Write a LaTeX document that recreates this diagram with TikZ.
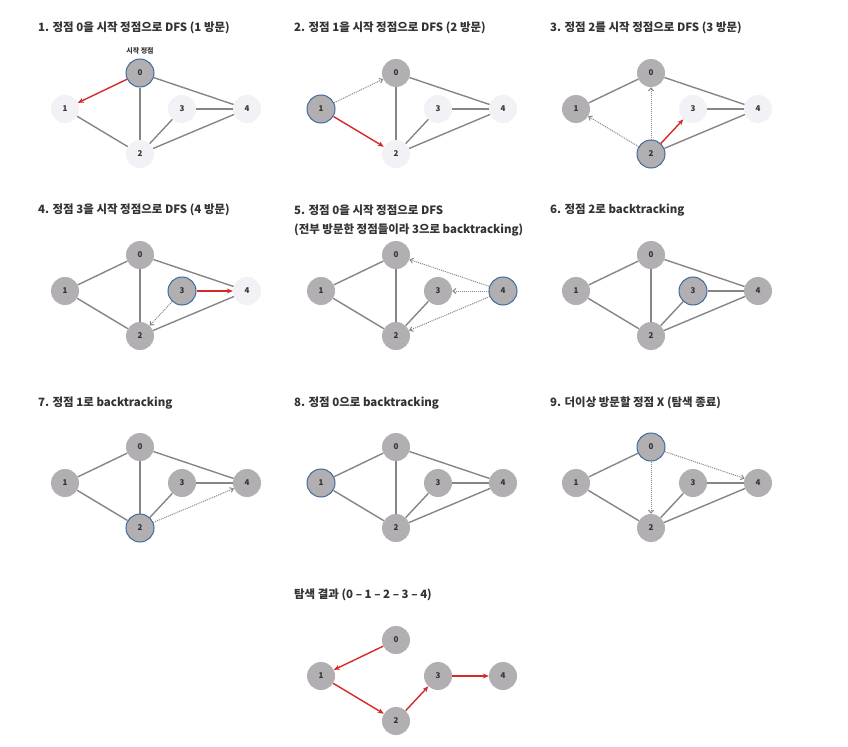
\documentclass[tikz,border=0pt]{standalone}
\usepackage{fontspec}
\setmainfont{Noto Sans CJK KR}
\usetikzlibrary{arrows.meta}
\definecolor{lightnode}{HTML}{F2F1F5}
\definecolor{visnode}{HTML}{B1AFB2}
\definecolor{curborder}{HTML}{3F6B9B}
\definecolor{edgegray}{HTML}{868686}
\definecolor{redarrow}{HTML}{D42A2A}
\definecolor{txt}{HTML}{333333}
\tikzset{
 vbase/.style={circle, minimum size=28bp, inner sep=0pt, font=\fontsize{8}{9}\selectfont\bfseries, text=txt},
 unv/.style={vbase, fill=lightnode},
 vis/.style={vbase, fill=visnode},
 cur/.style={vbase, fill=visnode, draw=curborder, line width=1bp},
 edge/.style={draw=edgegray, line width=1.4bp},
 redarr/.style={draw=redarrow, line width=1.4bp, -{Stealth[length=6bp,width=5bp]}},
 dotarr/.style={draw=edgegray, line width=1bp, dash pattern=on 1bp off 1bp, -{Straight Barb[length=3bp,width=5bp]}},
 title/.style={anchor=west, font=\fontsize{11.5}{13}\selectfont\bfseries, text=txt, inner sep=0pt},
 small/.style={font=\fontsize{7}{8}\selectfont\bfseries, text=txt, inner sep=0pt},
}
\newcommand\gpanel[7]{%
 \begin{scope}[shift={#2}]
 \node[#3] (#1-0) at (140,73) {0};
 \node[#4] (#1-1) at (65,109) {1};
 \node[#5] (#1-2) at (140,154) {2};
 \node[#6] (#1-3) at (182,109) {3};
 \node[#7] (#1-4) at (247,109) {4};
 \end{scope}}
\begin{document}
\begin{tikzpicture}[x=1bp,y=-1bp]
\useasboundingbox[fill=white] (0,0) rectangle (848,747);
% titles
\node[title] (t1) at (38,28) {1. 정점 0을 시작 정점으로 DFS (1 방문)};
\node[title] (t2) at (294,28) {2. 정점 1을 시작 정점으로 DFS (2 방문)};
\node[title] (t3) at (550,28) {3. 정점 2를 시작 정점으로 DFS (3 방문)};
\node[title] (t4) at (38,210) {4. 정점 3을 시작 정점으로 DFS (4 방문)};
\node[title] (t5) at (294,210) {5. 정점 0을 시작 정점으로 DFS};
\node[title] (t5b) at (294,230) {(전부 방문한 정점들이라 3으로 backtracking)};
\node[title] (t6) at (550,210) {6. 정점 2로 backtracking};
\node[title] (t7) at (38,403) {7. 정점 1로 backtracking};
\node[title] (t8) at (294,403) {8. 정점 0으로 backtracking};
\node[title] (t9) at (550,403) {9. 더이상 방문할 정점 X (탐색 종료)};
\node[title] (t10) at (294,595) {탐색 결과 (0 – 1 – 2 – 3 – 4)};
% panel 1
\gpanel{a}{(0,0)}{cur}{unv}{unv}{unv}{unv}
\node[small] (start) at (140,51) {시작 정점};
\draw[edge] (a-0) -- (a-2); \draw[edge] (a-0) -- (a-4); \draw[edge] (a-1) -- (a-2);
\draw[edge] (a-2) -- (a-3); \draw[edge] (a-2) -- (a-4); \draw[edge] (a-3) -- (a-4);
\draw[redarr] (a-0) -- (a-1);
% panel 2
\gpanel{b}{(256,0)}{vis}{cur}{unv}{unv}{unv}
\draw[edge] (b-0) -- (b-2); \draw[edge] (b-0) -- (b-4);
\draw[edge] (b-2) -- (b-3); \draw[edge] (b-2) -- (b-4); \draw[edge] (b-3) -- (b-4);
\draw[dotarr] (b-1) -- (b-0);
\draw[redarr] (b-1) -- (b-2);
% panel 3
\gpanel{c}{(511,0)}{vis}{vis}{cur}{unv}{unv}
\draw[edge] (c-0) -- (c-1); \draw[edge] (c-0) -- (c-4);
\draw[edge] (c-2) -- (c-4); \draw[edge] (c-3) -- (c-4);
\draw[dotarr] (c-2) -- (c-0); \draw[dotarr] (c-2) -- (c-1);
\draw[redarr] (c-2) -- (c-3);
% panel 4
\gpanel{d}{(0,182)}{vis}{vis}{vis}{cur}{unv}
\draw[edge] (d-0) -- (d-1); \draw[edge] (d-0) -- (d-2); \draw[edge] (d-1) -- (d-2);
\draw[edge] (d-0) -- (d-4); \draw[edge] (d-2) -- (d-4);
\draw[dotarr] (d-3) -- (d-2);
\draw[redarr] (d-3) -- (d-4);
% panel 5
\gpanel{e}{(256,182)}{vis}{vis}{vis}{vis}{cur}
\draw[edge] (e-0) -- (e-1); \draw[edge] (e-0) -- (e-2); \draw[edge] (e-1) -- (e-2);
\draw[edge] (e-2) -- (e-3);
\draw[dotarr] (e-4) -- (e-0); \draw[dotarr] (e-4) -- (e-3); \draw[dotarr] (e-4) -- (e-2);
% panel 6
\gpanel{f}{(511,182)}{vis}{vis}{vis}{cur}{vis}
\draw[edge] (f-0) -- (f-1); \draw[edge] (f-0) -- (f-2); \draw[edge] (f-1) -- (f-2);
\draw[edge] (f-2) -- (f-3); \draw[edge] (f-2) -- (f-4); \draw[edge] (f-3) -- (f-4);
\draw[edge] (f-0) -- (f-4);
% panel 7
\gpanel{g}{(0,374)}{vis}{vis}{cur}{vis}{vis}
\draw[edge] (g-0) -- (g-1); \draw[edge] (g-0) -- (g-2); \draw[edge] (g-1) -- (g-2);
\draw[edge] (g-2) -- (g-3); \draw[edge] (g-3) -- (g-4); \draw[edge] (g-0) -- (g-4);
\draw[dotarr] (g-2) -- (g-4);
% panel 8
\gpanel{h}{(256,374)}{vis}{cur}{vis}{vis}{vis}
\draw[edge] (h-0) -- (h-1); \draw[edge] (h-0) -- (h-2); \draw[edge] (h-1) -- (h-2);
\draw[edge] (h-2) -- (h-3); \draw[edge] (h-2) -- (h-4); \draw[edge] (h-3) -- (h-4);
\draw[edge] (h-0) -- (h-4);
% panel 9
\gpanel{i}{(511,374)}{cur}{vis}{vis}{vis}{vis}
\draw[edge] (i-0) -- (i-1); \draw[edge] (i-1) -- (i-2);
\draw[edge] (i-2) -- (i-3); \draw[edge] (i-2) -- (i-4); \draw[edge] (i-3) -- (i-4);
\draw[dotarr] (i-0) -- (i-2); \draw[dotarr] (i-0) -- (i-4);
% result
\gpanel{j}{(256,567)}{vis}{vis}{vis}{vis}{vis}
\draw[redarr] (j-0) -- (j-1); \draw[redarr] (j-1) -- (j-2);
\draw[redarr] (j-2) -- (j-3); \draw[redarr] (j-3) -- (j-4);
\end{tikzpicture}
\end{document}
